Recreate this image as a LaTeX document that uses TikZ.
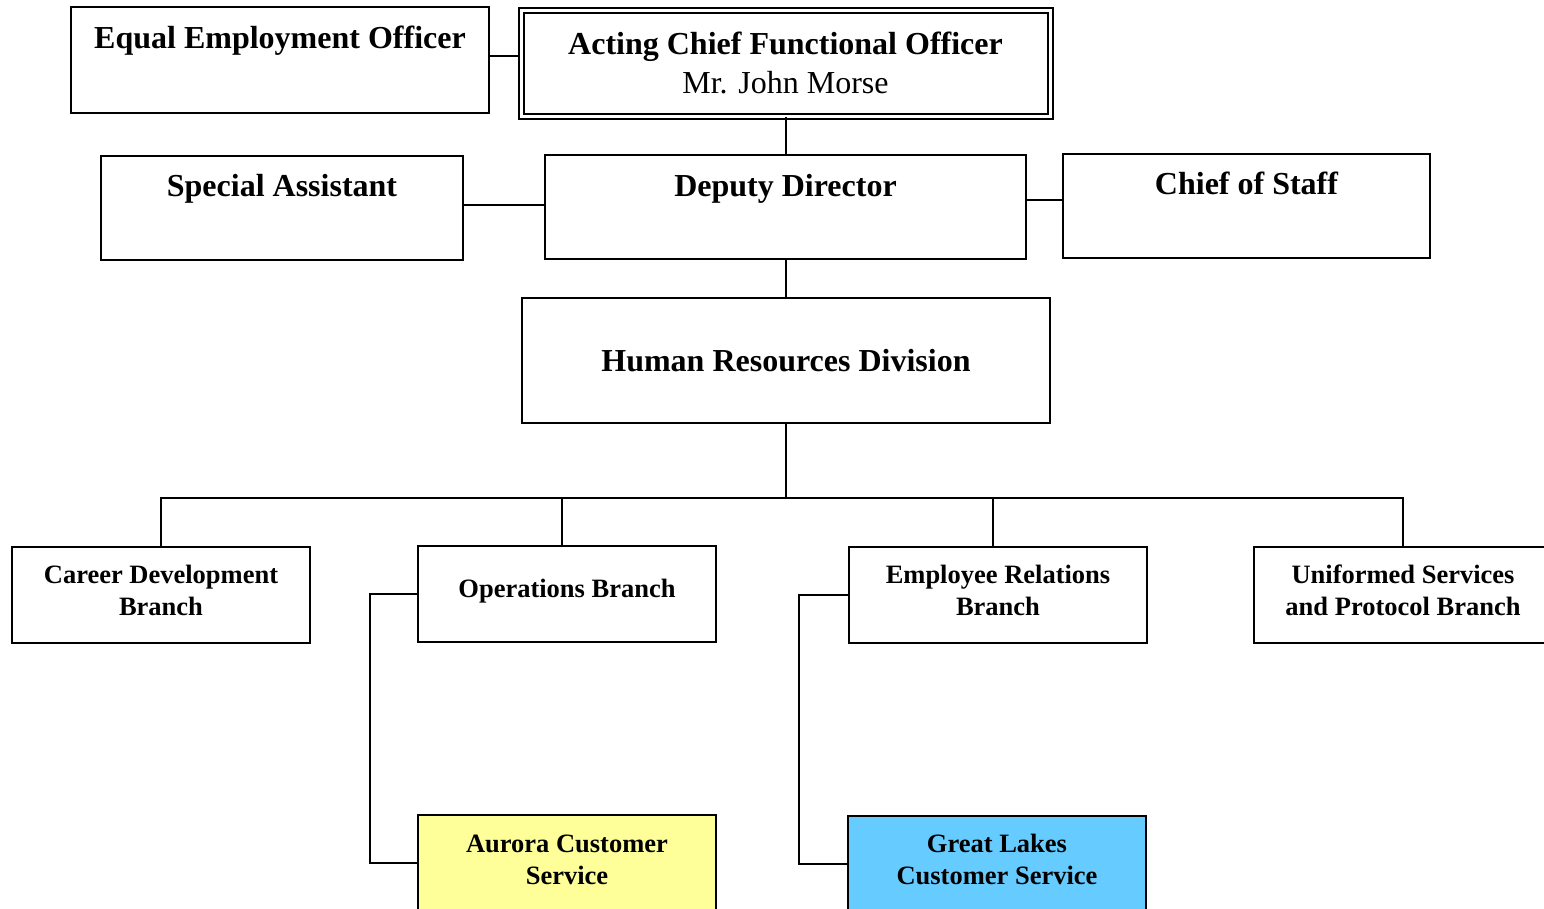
\documentclass[tikz,border=0pt]{standalone}
\usepackage{fontspec}
\setmainfont{Liberation Serif}

\begin{document}
\begin{tikzpicture}[x=1pt,y=-1pt,line width=2pt,
  topbox/.style={draw,inner sep=0pt,anchor=north west,font=\fontsize{32}{39}\selectfont\bfseries},
  branchbox/.style={draw,inner sep=0pt,anchor=north west,align=center,minimum width=298pt,text height=68pt,text depth=28pt,font=\fontsize{26.5}{32}\selectfont\bfseries}]
\useasboundingbox (0,0) rectangle (1544,908);
\node[topbox,minimum width=418pt,text height=41.5pt,text depth=64.5pt] (EEO) at (70,6){Equal Employment Officer};
\node[topbox,double,double distance=3pt,align=center,minimum width=529pt,minimum height=106pt] (ACFO) at (520,9){Acting Chief Functional Officer\\\mdseries Mr. John Morse};
\node[topbox,minimum width=362pt,text height=40.5pt,text depth=63.5pt] (SA) at (100,155){Special Assistant};
\node[topbox,minimum width=481pt,text height=41.5pt,text depth=62.5pt] (DD) at (544,154){Deputy Director};
\node[topbox,minimum width=367pt,text height=40.5pt,text depth=63.5pt] (CoS) at (1062,153){Chief of Staff};
\node[topbox,minimum width=528pt,minimum height=125pt] (HRD) at (521,297){Human Resources Division};
\node[branchbox] (CDB) at (11,546){Career Development\\Branch};
\node[branchbox,text height=51pt,text depth=45pt] (OB) at (417,545){Operations Branch};
\node[branchbox] (ERB) at (848,546){Employee Relations\\Branch};
\node[branchbox] (USPB) at (1253,546){Uniformed Services\\and Protocol Branch};
\node[branchbox,text height=69pt,text depth=27pt,fill={rgb,255:red,255;green,255;blue,153}] (ACS) at (417,814){Aurora Customer\\Service};
\node[branchbox,fill={rgb,255:red,102;green,204;blue,255}] (GLCS) at (847,815){Great Lakes\\Customer Service};
\draw ([yshift=4pt]EEO.east) -- ([yshift=4pt]EEO.east -| ACFO.west);
\draw (ACFO.south) -- (DD.north);
\draw ([yshift=3pt]SA.east) -- ([yshift=3pt]SA.east -| DD.west);
\draw ([yshift=7pt]DD.east) -- ([yshift=7pt]DD.east -| CoS.west);
\draw (HRD.north) -- (HRD.north |- DD.south);
\draw (HRD.south) -- ++(0,74) coordinate (Bus);
\draw (CDB.north) -- (CDB.north |- Bus) -| (USPB.north);
\draw ([xshift=-5pt]OB.north) -- ([xshift=-5pt]OB.north |- Bus);
\draw ([xshift=-5pt]ERB.north) -- ([xshift=-5pt]ERB.north |- Bus);
\draw (OB.west) -- ++(-47,0) |- (ACS.west);
\draw (ERB.west) -- ++(-49,0) |- (GLCS.west);
\end{tikzpicture}
\end{document}
